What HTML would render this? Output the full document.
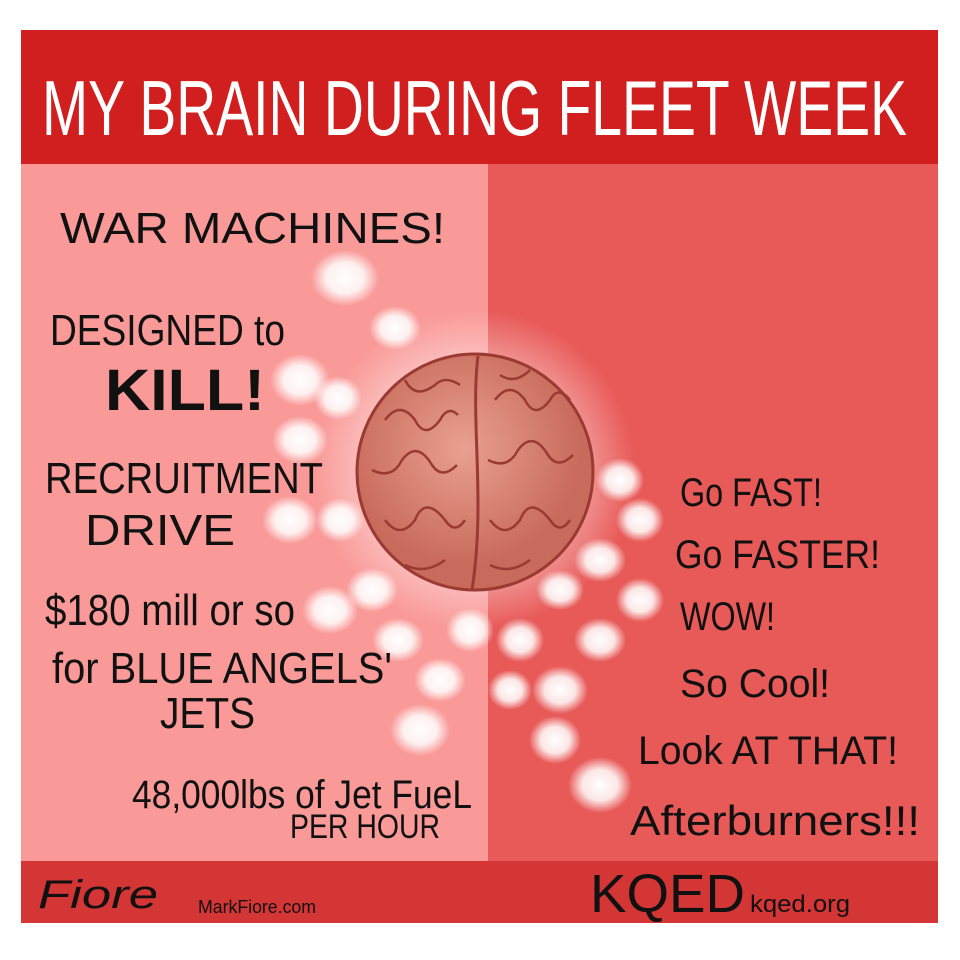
<!DOCTYPE html>
<html><head><meta charset="utf-8"><style>
html,body{margin:0;padding:0;background:#fff;}
svg{display:block}
text{font-family:"Liberation Sans Narrow","Liberation Sans",sans-serif;}
</style></head><body>
<svg width="960" height="960" viewBox="0 0 960 960" xmlns="http://www.w3.org/2000/svg">
<defs>
<radialGradient id="dot"><stop offset="0" stop-color="#fff" stop-opacity="1"/><stop offset="0.55" stop-color="#fff" stop-opacity="0.85"/><stop offset="1" stop-color="#fff" stop-opacity="0"/></radialGradient>
<radialGradient id="glow"><stop offset="0.5" stop-color="#fff" stop-opacity="0.6"/><stop offset="1" stop-color="#fff" stop-opacity="0"/></radialGradient>
<radialGradient id="brain" cx="0.45" cy="0.4"><stop offset="0" stop-color="#e9a090"/><stop offset="1" stop-color="#c86a5c"/></radialGradient>
</defs>
<rect x="21" y="30" width="917" height="134" fill="#d11f1f"/>
<rect x="21" y="164" width="467" height="697" fill="#f99a98"/>
<rect x="488" y="164" width="450" height="697" fill="#e85a58"/>
<rect x="21" y="861" width="917" height="62" fill="#d43535"/>
<text x="42" y="135" font-size="78" fill="#fff" textLength="865" lengthAdjust="spacingAndGlyphs">MY BRAIN DURING FLEET WEEK</text>
<g fill="url(#dot)">
<ellipse cx="345" cy="278" rx="34" ry="28"/><ellipse cx="395" cy="328" rx="26" ry="22"/>
<ellipse cx="300" cy="380" rx="30" ry="26"/><ellipse cx="338" cy="398" rx="24" ry="22"/>
<ellipse cx="300" cy="440" rx="28" ry="24"/><ellipse cx="290" cy="520" rx="28" ry="24"/>
<ellipse cx="340" cy="520" rx="24" ry="22"/><ellipse cx="372" cy="590" rx="26" ry="22"/>
<ellipse cx="330" cy="610" rx="28" ry="24"/><ellipse cx="398" cy="640" rx="26" ry="22"/>
<ellipse cx="470" cy="630" rx="24" ry="22"/><ellipse cx="440" cy="680" rx="26" ry="22"/>
<ellipse cx="420" cy="730" rx="30" ry="26"/><ellipse cx="520" cy="640" rx="24" ry="22"/>
<ellipse cx="560" cy="690" rx="28" ry="24"/><ellipse cx="600" cy="640" rx="26" ry="22"/>
<ellipse cx="640" cy="600" rx="24" ry="22"/><ellipse cx="600" cy="560" rx="26" ry="22"/>
<ellipse cx="640" cy="520" rx="24" ry="22"/><ellipse cx="620" cy="480" rx="24" ry="22"/>
<ellipse cx="560" cy="590" rx="24" ry="20"/><ellipse cx="555" cy="740" rx="26" ry="24"/>
<ellipse cx="600" cy="785" rx="32" ry="28"/><ellipse cx="510" cy="690" rx="22" ry="20"/>
</g>
<circle cx="475" cy="470" r="160" fill="url(#glow)"/>
<ellipse cx="475" cy="472" rx="118" ry="118" fill="url(#brain)" stroke="#9a3a32" stroke-width="3"/>
<path d="M478 356 C470 420 486 500 472 590" stroke="#9a3a32" stroke-width="3" fill="none"/>
<g stroke="#9a3a32" stroke-width="2.5" fill="none">
<path d="M385 420 q15 -20 30 0 q10 20 25 0 q8 -15 18 -5"/><path d="M372 470 q20 10 30 -10 q15 -20 30 5 q10 15 25 0"/>
<path d="M385 520 q15 20 30 0 q10 -25 30 0 q10 15 20 0"/><path d="M405 380 q10 20 30 5 q10 -10 25 0"/>
<path d="M495 400 q15 -20 30 0 q10 20 25 0 q8 -15 20 0"/><path d="M488 460 q20 10 30 -10 q15 -20 30 5 q10 15 25 0"/>
<path d="M490 520 q15 20 30 0 q10 -25 30 0 q10 15 20 0"/><path d="M405 565 q20 10 40 -5"/><path d="M490 565 q20 10 40 -5"/>
<path d="M500 375 q15 10 30 -5"/>
</g>
<g fill="#111">
<text x="60" y="243" font-size="44" textLength="385" lengthAdjust="spacingAndGlyphs">WAR MACHINES!</text>
<text x="50" y="345" font-size="44" textLength="235" lengthAdjust="spacingAndGlyphs">DESIGNED to</text>
<text x="105" y="410" font-size="58" font-weight="bold" textLength="160" lengthAdjust="spacingAndGlyphs">KILL!</text>
<text x="45" y="493" font-size="44" textLength="278" lengthAdjust="spacingAndGlyphs">RECRUITMENT</text>
<text x="85" y="545" font-size="44" textLength="150" lengthAdjust="spacingAndGlyphs">DRIVE</text>
<text x="45" y="625" font-size="44" textLength="250" lengthAdjust="spacingAndGlyphs">$180 mill or so</text>
<text x="52" y="683" font-size="44" textLength="340" lengthAdjust="spacingAndGlyphs">for BLUE ANGELS'</text>
<text x="160" y="728" font-size="44" textLength="95" lengthAdjust="spacingAndGlyphs">JETS</text>
<text x="132" y="808" font-size="40" textLength="340" lengthAdjust="spacingAndGlyphs">48,000lbs of Jet FueL</text>
<text x="290" y="838" font-size="34" textLength="150" lengthAdjust="spacingAndGlyphs">PER HOUR</text>
<text x="680" y="506" font-size="40" textLength="142" lengthAdjust="spacingAndGlyphs">Go FAST!</text>
<text x="675" y="568" font-size="40" textLength="205" lengthAdjust="spacingAndGlyphs">Go FASTER!</text>
<text x="680" y="630" font-size="40" textLength="95" lengthAdjust="spacingAndGlyphs">WOW!</text>
<text x="680" y="697" font-size="40" textLength="150" lengthAdjust="spacingAndGlyphs">So Cool!</text>
<text x="638" y="764" font-size="40" textLength="260" lengthAdjust="spacingAndGlyphs">Look AT THAT!</text>
<text x="630" y="835" font-size="42" textLength="290" lengthAdjust="spacingAndGlyphs">Afterburners!!!</text>
<text x="38" y="908" font-size="40" font-style="italic" font-family="Liberation Serif" textLength="120" lengthAdjust="spacingAndGlyphs">Fiore</text>
<text x="198" y="913" font-size="18" textLength="118" lengthAdjust="spacingAndGlyphs">MarkFiore.com</text>
<text x="590" y="912" font-size="54" textLength="155" lengthAdjust="spacingAndGlyphs">KQED</text>
<text x="750" y="912" font-size="24" textLength="100" lengthAdjust="spacingAndGlyphs">kqed.org</text>
</g>
</svg>
</body></html>
